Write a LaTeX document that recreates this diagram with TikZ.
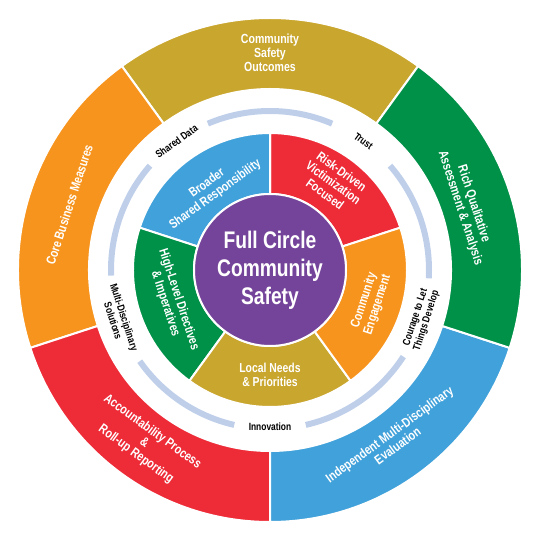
\documentclass[tikz,border=0pt]{standalone}
\usepackage{fontspec}
\usepackage{tikz}
\usepackage{color}
\newfontfamily\narrowsf{Liberation Sans}[FakeStretch=0.8]
\definecolor{ringgold}{RGB}{201,166,46}
\definecolor{ringorange}{RGB}{247,148,29}
\definecolor{ringred}{RGB}{237,44,56}
\definecolor{ringblue}{RGB}{65,161,218}
\definecolor{ringgreen}{RGB}{0,145,72}
\definecolor{hubpurple}{RGB}{116,68,154}
\definecolor{tracklight}{RGB}{191,207,234}

\begin{document}
\begin{tikzpicture}[x=1pt, y=1pt,
                    wedge/.style={draw=white, line width=2pt},
                    track/.style={draw=tracklight, line width=6pt},
                    outertxt/.style={text=white, align=center, inner sep=0pt, font=\narrowsf\bfseries\fontsize{13.2}{14}\selectfont},
                    innertxt/.style={text=white, align=center, inner sep=0pt, font=\narrowsf\bfseries\fontsize{13}{14}\selectfont},
                    gaptxt/.style={text=black, align=center, inner sep=0pt, font=\narrowsf\bfseries\fontsize{10.5}{11.5}\selectfont},
                    hubtxt/.style={text=white, align=center, inner sep=0pt, font=\narrowsf\bfseries\fontsize{24}{28}\selectfont}]
\useasboundingbox (-270,-270) rectangle (270,270);
% outer ring
\filldraw[wedge, fill=ringgold] (54:181) arc[start angle=54, end angle=126, radius=181] -- (126:252) arc[start angle=126, end angle=54, radius=252] -- cycle;
\filldraw[wedge, fill=ringorange] (126:181) arc[start angle=126, end angle=198, radius=181] -- (198:252) arc[start angle=198, end angle=126, radius=252] -- cycle;
\filldraw[wedge, fill=ringred] (198:181) arc[start angle=198, end angle=270, radius=181] -- (270:252) arc[start angle=270, end angle=198, radius=252] -- cycle;
\filldraw[wedge, fill=ringblue] (270:181) arc[start angle=270, end angle=342, radius=181] -- (342:252) arc[start angle=342, end angle=270, radius=252] -- cycle;
\filldraw[wedge, fill=ringgreen] (342:181) arc[start angle=342, end angle=414, radius=181] -- (414:252) arc[start angle=414, end angle=342, radius=252] -- cycle;
% light track
\draw[track] (67:159) arc[start angle=67, end angle=113, radius=159];
\draw[track] (139:159) arc[start angle=139, end angle=182, radius=159];
\draw[track] (215:159) arc[start angle=215, end angle=257, radius=159];
\draw[track] (283:159) arc[start angle=283, end angle=327, radius=159];
\draw[track] (357:159) arc[start angle=357, end angle=401, radius=159];
% inner ring
\filldraw[wedge, fill=ringred] (18:76) arc[start angle=18, end angle=90, radius=76] -- (90:137) arc[start angle=90, end angle=18, radius=137] -- cycle;
\filldraw[wedge, fill=ringblue] (90:76) arc[start angle=90, end angle=162, radius=76] -- (162:137) arc[start angle=162, end angle=90, radius=137] -- cycle;
\filldraw[wedge, fill=ringgreen] (162:76) arc[start angle=162, end angle=234, radius=76] -- (234:137) arc[start angle=234, end angle=162, radius=137] -- cycle;
\filldraw[wedge, fill=ringgold] (234:76) arc[start angle=234, end angle=306, radius=76] -- (306:137) arc[start angle=306, end angle=234, radius=137] -- cycle;
\filldraw[wedge, fill=ringorange] (306:76) arc[start angle=306, end angle=378, radius=76] -- (378:137) arc[start angle=378, end angle=306, radius=137] -- cycle;
\filldraw[wedge, fill=hubpurple] (0,0) circle[radius=76];
% texts
\node (hub) [hubtxt] at (0,0) {Full Circle\\Community\\Safety};
\node (outcomes) [outertxt] at (90:217) {Community\\Safety\\Outcomes};
\node (business) [outertxt, rotate=72] at (162:211) {Core Business Measures};
\node (qualitative) [outertxt, rotate=-72] at (18:207) {Rich Qualitative\\Assessment \& Analysis};
\node (accountability) [outertxt, rotate=-36] at (234:214) {Accountability Process\\\&\\Roll-up Reporting};
\node (evaluation) [outertxt, rotate=36] at (306:210) {Independent Multi-Disciplinary\\Evaluation};
\node (broader) [innertxt, rotate=36] at (126:100) {Broader\\Shared Responsibility};
\node (risk) [innertxt, rotate=-36] at (54:108) {Risk-Driven\\Victimization\\Focused};
\node (engagement) [innertxt, rotate=72] at (342:106) {Community\\Engagement};
\node (local) [innertxt] at (270:105) {Local Needs\\\& Priorities};
\node (directives) [innertxt, rotate=-72] at (198:103) {High-Level Directives\\\& Imperatives};
\node (shared) [gaptxt, rotate=36] at (126:159) {Shared Data};
\node (trust) [gaptxt, rotate=-36] at (54:159) {Trust};
\node (courage) [gaptxt, rotate=72] at (342:159) {Courage to Let\\Things Develop};
\node (innovation) [gaptxt] at (270:157) {Innovation};
\node (solutions) [gaptxt, rotate=-72] at (198:159) {Multi-Disciplinary\\Solutions};
\end{tikzpicture}
\end{document}
